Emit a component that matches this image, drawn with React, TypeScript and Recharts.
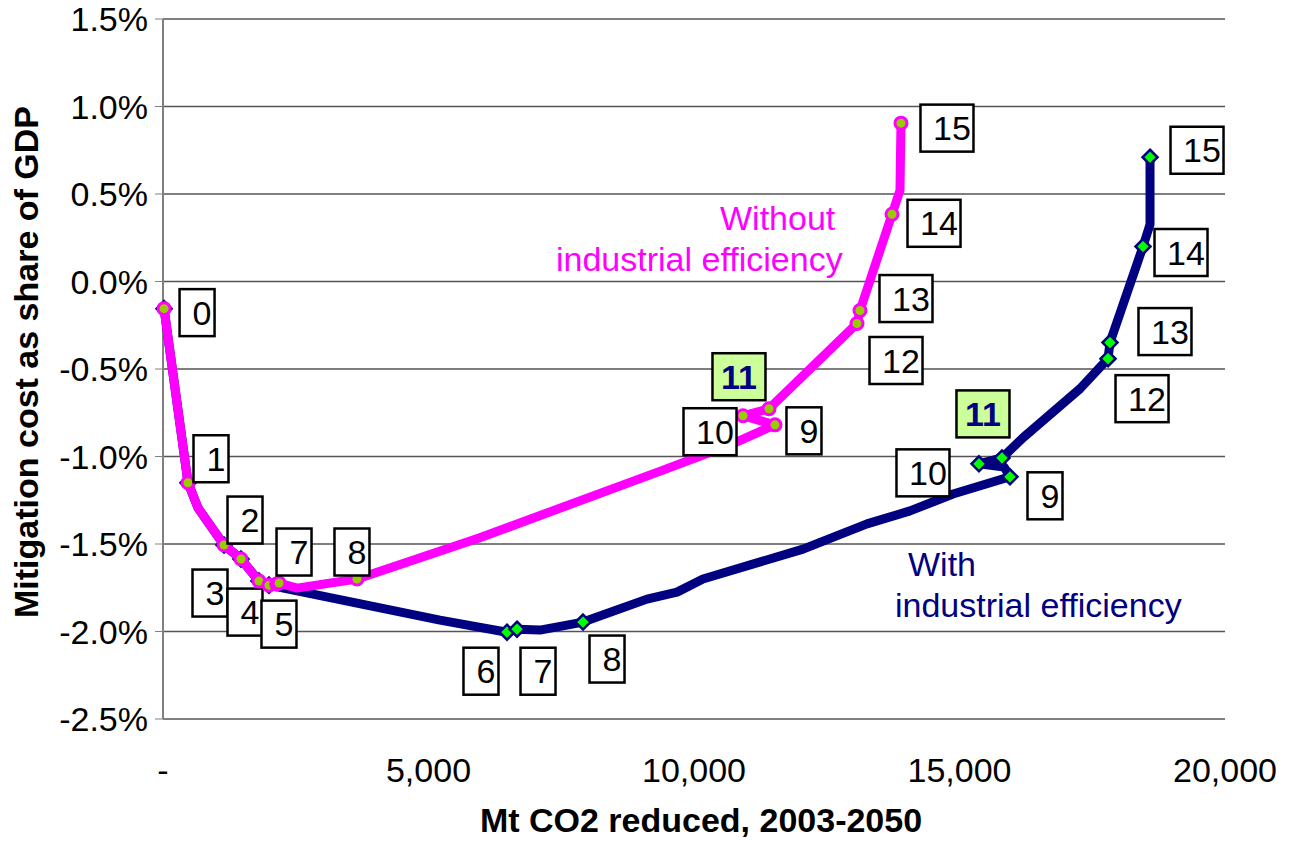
import { ScatterChart, Scatter, XAxis, YAxis, CartesianGrid } from 'recharts'

const MAGENTA = '#FF00FF'
const NAVY = '#000080'
const FONT = 'Arial, "Liberation Sans", sans-serif'

const steps = ['0', '1', '2', '3', '4', '5', '6', '7', '8', '9', '10', '11', '12', '13', '14', '15']

// Without industrial efficiency. step null = bend in the curve, no marker
const withoutX = [20, 471, 659, 1149, 1469, 1808, 1996, 2140, 2185, 2523, 3653, 5951, 9379, 10734, 11525, 10923, 11412, 13070, 13126, 13729, 13879, 13898]
const withoutY = [-0.155, -1.15, -1.294, -1.506, -1.586, -1.712, -1.735, -1.728, -1.723, -1.752, -1.7, -1.466, -1.082, -0.927, -0.819, -0.767, -0.727, -0.24, -0.166, 0.384, 0.521, 0.905]
const withoutStep = [0, 1, null, 2, 3, 4, 5, 6, 7, null, 8, null, null, null, 9, 10, 11, 12, 13, 14, null, 15]

// With industrial efficiency
const withX = [20, 471, 659, 1149, 1469, 1808, 1996, 5216, 6478, 6667, 7100, 7910, 9115, 9680, 10169, 12053, 13258, 14068, 14878, 15951, 15840, 15367, 15800, 16196, 17269, 17797, 17834, 18456, 18588, 18588]
const withY = [-0.155, -1.15, -1.294, -1.506, -1.586, -1.712, -1.735, -1.935, -2.004, -1.987, -1.992, -1.946, -1.815, -1.775, -1.7, -1.529, -1.385, -1.311, -1.214, -1.116, -1.06, -1.042, -1.008, -0.893, -0.613, -0.441, -0.349, 0.2, 0.326, 0.71]
const withStep = [0, 1, null, 2, 3, 4, 5, null, 6, 7, null, 8, null, null, null, null, null, null, null, 9, null, 10, 11, null, null, 12, 13, 14, null, 15]

const xTicks = [0, 5000, 10000, 15000, 20000]
const yTicks = [-2.5, -2, -1.5, -1, -0.5, 0, 0.5, 1, 1.5]

// label box centre relative to its marker, px
const withoutLabelOffset: Record<number, [number, number]> = {
  0: [33, 4], 1: [23, -24], 2: [21, -25], 7: [15, -31], 8: [-5, -27], 9: [29, 6],
  10: [-33, 16], 11: [-30, -32], 12: [39, 37], 13: [46, -12], 14: [42, 9], 15: [46, 5],
}
const withLabelOffset: Record<number, [number, number]> = {
  3: [-31, 34], 4: [-14, 31], 5: [10, 39], 6: [-26, 39], 7: [21, 42], 8: [24, 37], 9: [35, 19],
  10: [-56, 9], 11: [-19, -44], 12: [34, 40], 13: [55, -11], 14: [38, 6], 15: [47, -7],
}

const withoutData = withoutX.map((x, i) => ({ x, y: withoutY[i], step: withoutStep[i] }))
const withData = withX.map((x, i) => ({ x, y: withY[i], step: withStep[i] }))

function StepLabel({ cx, cy, step, offset }: { cx: number; cy: number; step: number; offset?: [number, number] }) {
  if (!offset) return null
  const text = steps[step]
  const highlight = step === 11
  const w = text.length === 1 ? 35 : 53
  const h = 47
  const mx = cx + offset[0]
  const my = cy + offset[1]
  return (
    <g>
      <rect x={mx - w / 2} y={my - h / 2} width={w} height={h} fill={highlight ? '#CCFF99' : '#fff'} stroke="#000" strokeWidth={2.5} />
      <text
        x={highlight ? mx : mx + 5}
        y={my + 12}
        textAnchor="middle"
        fontFamily={FONT}
        fontSize={34}
        fontWeight={highlight ? 'bold' : 'normal'}
        fill={highlight ? NAVY : '#000'}
      >
        {text}
      </text>
    </g>
  )
}

function WithoutMarker(props: any) {
  const { cx, cy, payload } = props
  if (payload.step == null) return <g />
  return (
    <g>
      <circle cx={cx} cy={cy} r={6} fill="#99CC00" stroke={MAGENTA} strokeWidth={3} />
      <StepLabel cx={cx} cy={cy} step={payload.step} offset={withoutLabelOffset[payload.step]} />
    </g>
  )
}

function WithMarker(props: any) {
  const { cx, cy, payload } = props
  if (payload.step == null) return <g />
  const r = 7.5
  return (
    <g>
      <polygon
        points={`${cx},${cy - r} ${cx + r},${cy} ${cx},${cy + r} ${cx - r},${cy}`}
        fill="#00FF00"
        stroke={NAVY}
        strokeWidth={2.5}
      />
      <StepLabel cx={cx} cy={cy} step={payload.step} offset={withLabelOffset[payload.step]} />
    </g>
  )
}

function XTick({ x, payload }: any) {
  const v = payload.value as number
  return (
    <text x={x} y={782} textAnchor="middle" fontFamily={FONT} fontSize={34} fill="#000">
      {v === 0 ? '-' : v.toLocaleString('en-US')}
    </text>
  )
}

function YTick({ y, payload }: any) {
  const v = payload.value as number
  return (
    <text x={148} y={y + 12} textAnchor="end" fontFamily={FONT} fontSize={34} fill="#000">
      {v.toFixed(1) + '%'}
    </text>
  )
}

export default function App() {
  return (
    <div style={{ position: 'absolute', left: 0, top: 0, width: 1289, height: 841, background: '#fff' }}>
      <ScatterChart width={1289} height={841} margin={{ top: 19, right: 64, bottom: 0, left: 0 }}>
        <CartesianGrid horizontal vertical={false} stroke="#555" strokeWidth={1.5} />
        <XAxis
          type="number"
          dataKey="x"
          domain={[0, 20000]}
          ticks={xTicks}
          height={122}
          tickLine={false}
          axisLine={{ stroke: '#808080', strokeWidth: 2 }}
          tick={<XTick />}
        />
        <YAxis
          type="number"
          dataKey="y"
          domain={[-2.5, 1.5]}
          ticks={yTicks}
          width={163}
          tickSize={8}
          tickLine={{ stroke: '#808080' }}
          axisLine={{ stroke: '#808080', strokeWidth: 2 }}
          tick={<YTick />}
        />
        <Scatter
          data={withData}
          stroke={NAVY}
          strokeWidth={9}
          line={{ stroke: NAVY, strokeWidth: 9, strokeLinejoin: 'round', strokeLinecap: 'round' }}
          lineType="joint"
          shape={(p: any) => <WithMarker {...p} />}
          isAnimationActive={false}
        />
        <Scatter
          data={withoutData}
          stroke={MAGENTA}
          strokeWidth={9}
          line={{ stroke: MAGENTA, strokeWidth: 9, strokeLinejoin: 'round', strokeLinecap: 'round' }}
          lineType="joint"
          shape={(p: any) => <WithoutMarker {...p} />}
          isAnimationActive={false}
        />
      </ScatterChart>
      <svg width={1289} height={841} style={{ position: 'absolute', left: 0, top: 0, pointerEvents: 'none' }} fontFamily={FONT}>
        <text x={38} y={362} transform="rotate(-90 38 362)" textAnchor="middle" fontSize={34} fontWeight="bold">
          Mitigation cost as share of GDP
        </text>
        <text x={701} y={832} textAnchor="middle" fontSize={34} fontWeight="bold">
          Mt CO2 reduced, 2003-2050
        </text>
        <text x={720} y={230} fontSize={34} fill={MAGENTA}>Without</text>
        <text x={556} y={271} fontSize={34} fill={MAGENTA}>industrial efficiency</text>
        <text x={908} y={576} fontSize={34} fill={NAVY}>With</text>
        <text x={895} y={617} fontSize={34} fill={NAVY}>industrial efficiency</text>
      </svg>
    </div>
  )
}
